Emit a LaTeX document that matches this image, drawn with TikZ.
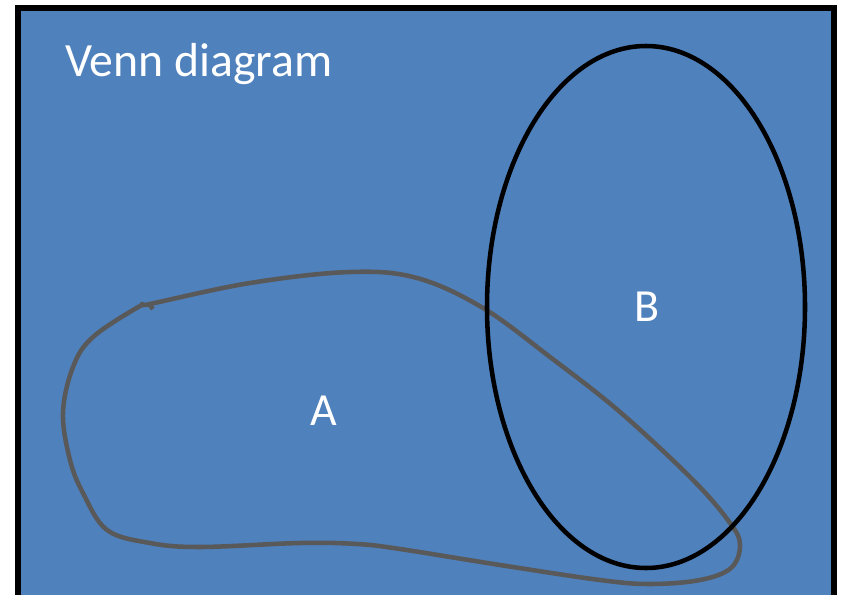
\documentclass[tikz,border=0pt]{standalone}
\usepackage{fontspec}
\setmainfont{Carlito}
\definecolor{officeblue}{HTML}{4F81BD}
\definecolor{setgray}{HTML}{595959}
\begin{document}
\begin{tikzpicture}[x=0.75pt,y=-0.75pt,
  label/.style={text=white,font=\fontsize{34.5}{40}\selectfont,inner sep=0pt},
  setline/.style={line width=3.4pt}]
\useasboundingbox (0,0) rectangle (841,595);
\clip (0,0) rectangle (841,595);
\draw[fill=officeblue,line width=4.5pt] (18,8) rectangle (834,620);
\node[label,font=\fontsize{35.8}{42}\selectfont,anchor=base west] (title) at (65,77) {Venn diagram};
\draw[setline,draw=setgray,line join=round] plot[smooth cycle,tension=0.6] coordinates {
  (150,304) (250,283) (350,272) (417,278) (483,308) (550,357) (620,412)
  (693,480) (730,523) (740,545) (731,568) (700,580) (650,584) (600,580)
  (500,565) (400,549) (357,544) (300,543) (200,547) (150,543) (107,530)
  (83,493) (70,460) (63,413) (73,367) (93,337) (140,306)};
\draw[setline,draw=setgray] (148,303) -- (153,309);
\draw[setline,draw=black] (646,307) ellipse [x radius=159, y radius=261];
\node[label] (A) at (324,411) {A};
\node[label] (B) at (647,307) {B};
\end{tikzpicture}
\end{document}
